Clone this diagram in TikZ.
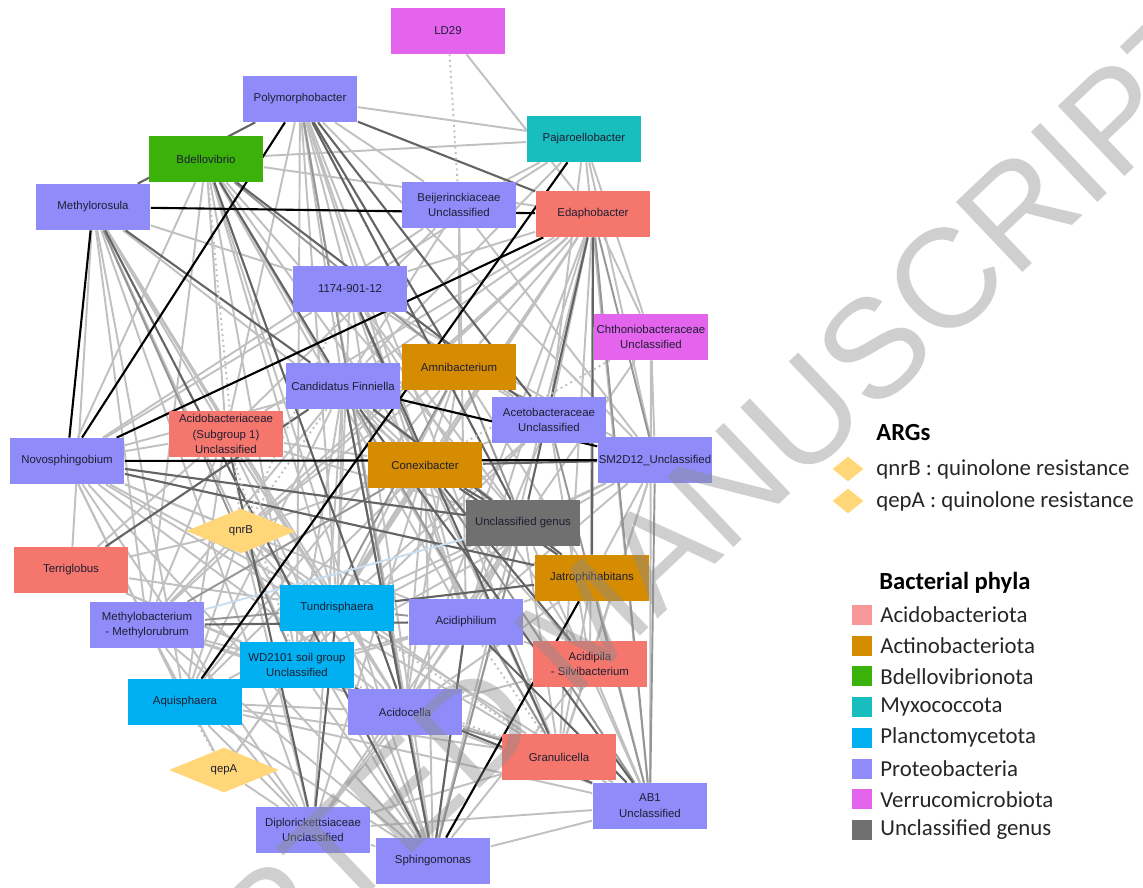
\documentclass[tikz,border=0pt]{standalone}
\usepackage{fontspec}
\setmainfont{Liberation Sans}
\newfontfamily\legfont{Carlito}
\usetikzlibrary{shapes.geometric}
\pgfdeclarelayer{background}
\pgfsetlayers{background,main}
\definecolor{cProt}{RGB}{143,140,250}
\definecolor{cAcid}{RGB}{245,118,108}
\definecolor{cAcidL}{RGB}{248,152,152}
\definecolor{cActi}{RGB}{214,140,0}
\definecolor{cBdel}{RGB}{58,178,10}
\definecolor{cMyxo}{RGB}{24,190,190}
\definecolor{cPlan}{RGB}{0,176,240}
\definecolor{cVerr}{RGB}{228,100,238}
\definecolor{cUgen}{RGB}{112,112,112}
\definecolor{cArg}{RGB}{255,214,120}
\definecolor{cTxt}{RGB}{30,30,50}
\definecolor{eLight}{RGB}{192,192,192}
\definecolor{eMid}{RGB}{150,150,150}
\definecolor{eDark}{RGB}{100,100,100}
\definecolor{eBlue}{RGB}{200,222,240}
\tikzset{
  genus/.style={rectangle,minimum width=2.3cm,minimum height=0.92cm,inner sep=0pt,align=center,
    text=cTxt,font=\fontsize{6.5}{9}\selectfont},
  prot/.style={genus,fill=cProt},
  acid/.style={genus,fill=cAcid},
  acti/.style={genus,fill=cActi},
  bdel/.style={genus,fill=cBdel},
  myxo/.style={genus,fill=cMyxo},
  plan/.style={genus,fill=cPlan},
  verr/.style={genus,fill=cVerr},
  ugen/.style={genus,fill=cUgen},
  arg/.style={diamond,fill=cArg,minimum width=2.2cm,minimum height=0.9cm,inner sep=0pt,
    text=cTxt,font=\fontsize{6.5}{9}\selectfont},
  elight/.style={eLight,line width=1.1pt},
  emid/.style={eMid,line width=1.1pt},
  edark/.style={eDark,line width=1.2pt},
  eblack/.style={black,line width=1.2pt},
  edot/.style={eLight,line width=1.1pt,dotted},
  eblue/.style={eBlue,line width=1.1pt},
  hdr/.style={anchor=west,inner sep=0pt,font=\legfont\bfseries\fontsize{14}{16}\selectfont},
  leg/.style={anchor=west,inner sep=0pt,text=black!85,font=\legfont\fontsize{13}{15}\selectfont},
  swatch/.style={minimum size=0.4cm,inner sep=0pt},
  argkey/.style={diamond,fill=cArg,minimum width=0.62cm,minimum height=0.5cm,inner sep=0pt}
}
\begin{document}
\begin{tikzpicture}[x=0.02cm,y=-0.02cm]
\useasboundingbox (0,0) rectangle (1143,888);
\node[verr] (LD) at (448,31) {LD29};
\node[prot] (Poly) at (300,99) {Polymorphobacter};
\node[bdel] (Bdel) at (206,159) {Bdellovibrio};
\node[myxo] (Paja) at (584,139) {Pajaroellobacter};
\node[prot] (Mros) at (93,207) {Methylorosula};
\node[prot] (Beij) at (459,205) {Beijerinckiaceae\\Unclassified};
\node[acid] (Edaph) at (593,214) {Edaphobacter};
\node[prot] (N1174) at (350,289) {1174-901-12};
\node[verr] (Chth) at (651,337) {Chthoniobacteraceae\\Unclassified};
\node[acti] (Amni) at (459,367) {Amnibacterium};
\node[prot] (Cand) at (343,386) {Candidatus Finniella};
\node[prot] (Aceto) at (549,420) {Acetobacteraceae\\Unclassified};
\node[acid] (AcSG) at (226,434) {Acidobacteriaceae\\(Subgroup 1)\\Unclassified};
\node[prot] (Novo) at (67,461) {Novosphingobium};
\node[acti] (Conex) at (425,465) {Conexibacter};
\node[prot] (SM2) at (655,460) {SM2D12\_Unclassified};
\node[ugen] (Ugen) at (523,523) {Unclassified genus};
\node[arg] (qnrB) at (241,531) {qnrB};
\node[acid] (Terri) at (71,570) {Terriglobus};
\node[acti] (Jatro) at (592,578) {Jatrophihabitans};
\node[plan] (Tundr) at (337,608) {Tundrisphaera};
\node[prot] (Mbact) at (147,625) {Methylobacterium\\- Methylorubrum};
\node[prot] (Aciph) at (466,622) {Acidiphilium};
\node[plan] (WD21) at (297,665) {WD2101 soil group\\Unclassified};
\node[acid] (Acpil) at (590,664) {Acidipila\\- Silvibacterium};
\node[plan] (Aquis) at (185,702) {Aquisphaera};
\node[prot] (Acdoc) at (405,712) {Acidocella};
\node[acid] (Granu) at (559,757) {Granulicella};
\node[arg] (qepA) at (224,770) {qepA};
\node[prot] (AB1) at (650,806) {AB1\\Unclassified};
\node[prot] (Diplo) at (313,830) {Diplorickettsiaceae\\Unclassified};
\node[prot] (Sphing) at (433,861) {Sphingomonas};
\begin{pgfonlayer}{background}
\foreach \a/\b in {Poly/Paja,Poly/Cand,Poly/N1174,Poly/Conex,Poly/Aciph,Poly/Sphing,Poly/Tundr,Poly/WD21,
  Poly/AcSG,Poly/Beij,Poly/SM2,Poly/Granu,Bdel/Paja,Bdel/Edaph,Bdel/Novo,Bdel/AcSG,Bdel/Tundr,Bdel/WD21,
  Bdel/Conex,Bdel/Aciph,Bdel/Mbact,Bdel/Ugen,Bdel/Granu,Bdel/Sphing,Mros/N1174,Mros/Mbact,Mros/Aquis,
  Mros/qnrB,Mros/Tundr,Mros/Diplo,Mros/AcSG,Mros/Acdoc,Mros/Conex,Mros/Terri,LD/Edaph,Paja/Beij,
  Paja/Chth,Paja/SM2,Paja/Cand,Paja/N1174,Paja/AB1,Paja/Aceto,Beij/Cand,Beij/Amni,Beij/AcSG,Beij/SM2,
  Beij/Novo,Beij/Aciph,Edaph/Amni,Edaph/Cand,Edaph/Aceto,Edaph/Chth,Edaph/Acpil,Edaph/Aciph,Edaph/Tundr,
  Edaph/WD21,Edaph/Acdoc,Edaph/Granu,Edaph/qnrB,Edaph/AcSG,Edaph/N1174,Edaph/Sphing,Edaph/Mbact,
  Edaph/Conex,N1174/Aceto,N1174/SM2,N1174/Aciph,N1174/Ugen,N1174/Novo,N1174/Tundr,N1174/Acpil,
  Chth/SM2,Chth/AB1,Chth/Ugen,Cand/Conex,Cand/Tundr,Cand/WD21,Cand/Mbact,Cand/Aquis,Cand/Acdoc,
  Cand/Sphing,Cand/Acpil,Cand/Novo,Amni/Conex,Amni/Aceto,Amni/Tundr,Amni/qnrB,Amni/Aquis,Amni/Acdoc,
  Amni/Jatro,Aceto/Conex,Aceto/Tundr,Aceto/Aciph,Aceto/Acpil,Aceto/WD21,AcSG/Conex,AcSG/Ugen,
  AcSG/Tundr,AcSG/Mbact,AcSG/Aquis,AcSG/Acdoc,AcSG/Novo,Novo/qnrB,Novo/Tundr,Novo/Aciph,Novo/Acdoc,
  Novo/Granu,Novo/Mbact,Novo/Aquis,Novo/Sphing,Novo/Diplo,Terri/qnrB,Terri/Tundr,Terri/WD21,
  Terri/Acdoc,Terri/AcSG,Conex/Aciph,Conex/Tundr,Conex/WD21,Conex/Aquis,Conex/Acdoc,Conex/Granu,
  Conex/Sphing,Conex/Diplo,Conex/qnrB,SM2/Ugen,SM2/Jatro,SM2/Tundr,SM2/Aciph,SM2/Acpil,SM2/Granu,
  SM2/WD21,Ugen/Aciph,Ugen/Aquis,Ugen/Acdoc,Ugen/Granu,Ugen/AB1,Ugen/Diplo,Jatro/Aciph,Jatro/AB1,
  Jatro/Acdoc,Jatro/Granu,qnrB/Tundr,qnrB/Mbact,qnrB/Aquis,qnrB/WD21,qnrB/Acdoc,qnrB/Sphing,
  qnrB/Diplo,qnrB/Granu,Tundr/Acdoc,Tundr/AB1,Tundr/Sphing,Tundr/WD21,Mbact/WD21,Mbact/Acdoc,
  Mbact/Granu,Mbact/Sphing,Mbact/Diplo,Mbact/Aquis,Aciph/Acpil,Aciph/Sphing,Aciph/Diplo,Aciph/Aquis,
  WD21/Acdoc,WD21/Sphing,WD21/Aciph,Acpil/AB1,Acpil/Granu,Acpil/Sphing,Acpil/Acdoc,Aquis/Acdoc,
  Aquis/Granu,Aquis/AB1,Aquis/Sphing,Aquis/Diplo,Acdoc/AB1,Acdoc/Sphing,Acdoc/Diplo,Granu/AB1,
  Granu/Diplo,qepA/Diplo,qepA/Mbact,qepA/WD21,qepA/Tundr,AB1/Sphing,AB1/Diplo,Diplo/Cand,
  Sphing/N1174,Sphing/AcSG,Sphing/Ugen,Sphing/Diplo}
  \draw[elight] (\a) -- (\b);
\foreach \a/\b in {Edaph/SM2,Edaph/AB1,SM2/AB1,Tundr/Aciph,Tundr/Mbact,N1174/Conex,Cand/Granu,
  Amni/WD21,Poly/Acdoc,Mros/WD21,Aceto/AB1,Amni/SM2,Cand/Ugen,Ugen/Sphing,Conex/Mbact,Conex/AB1,
  Amni/Ugen,Bdel/Amni,Acdoc/Granu}
  \draw[emid] (\a) -- (\b);
\foreach \a/\b in {Mros/Poly,Poly/Edaph,Mros/Cand,Poly/Amni,Poly/Ugen,Bdel/Cand,Bdel/Aceto,
  Novo/Jatro,Conex/SM2,Conex/Jatro,Conex/Ugen,N1174/Granu,Cand/AB1,Cand/Jatro,Edaph/Ugen,
  Edaph/Jatro,Mbact/Aciph,Tundr/Jatro,Aciph/AB1,WD21/AB1,Poly/Aceto,Bdel/Acdoc,Terri/Cand,
  Diplo/AcSG,Sphing/Mros,Sphing/Cand,Sphing/Aciph,Diplo/Tundr,Novo/Ugen,Conex/Acpil}
  \draw[edark] (\a) -- (\b);
\foreach \a/\b in {LD/Beij,Bdel/qnrB,Aquis/qepA,Tundr/Granu,WD21/Granu,Cand/qnrB,N1174/qnrB,
  Chth/Conex,Aciph/Granu,AcSG/WD21}
  \draw[edot] (\a) -- (\b);
\draw[eblue] (Mbact) -- (Ugen);
\foreach \a/\b in {Mros/Edaph,Mros/Novo,Poly/Novo,Novo/Edaph,Novo/SM2,Paja/Aquis,Cand/SM2,Jatro/Sphing}
  \draw[eblack] (\a) -- (\b);
\end{pgfonlayer}
\node[hdr] (argT) at (876,433) {ARGs};
\node[argkey] (k1) at (848,469) {};
\node[leg] (k1t) at (876,469) {qnrB : quinolone resistance};
\node[argkey] (k2) at (848,501) {};
\node[leg] (k2t) at (876,501) {qepA : quinolone resistance};
\node[hdr] (phyT) at (879,583) {Bacterial phyla};
\foreach \c/\t [count=\i from 0] in {cAcidL/Acidobacteriota,cActi/Actinobacteriota,cBdel/Bdellovibrionota,
  cMyxo/Myxococcota,cPlan/Planctomycetota,cProt/Proteobacteria,cVerr/Verrucomicrobiota,cUgen/Unclassified genus}
{
  \node[swatch,fill=\c] (sw\i) at (862,615+30.7*\i) {};
  \node[leg] (sl\i) at (880,615+30.7*\i) {\t};
}
\node[rotate=43.5,text=black!45,text opacity=0.42,font=\fontsize{80}{80}\selectfont] (wm) at (585,622) {ACCEPTED MANUSCRIPT};
\end{tikzpicture}
\end{document}
